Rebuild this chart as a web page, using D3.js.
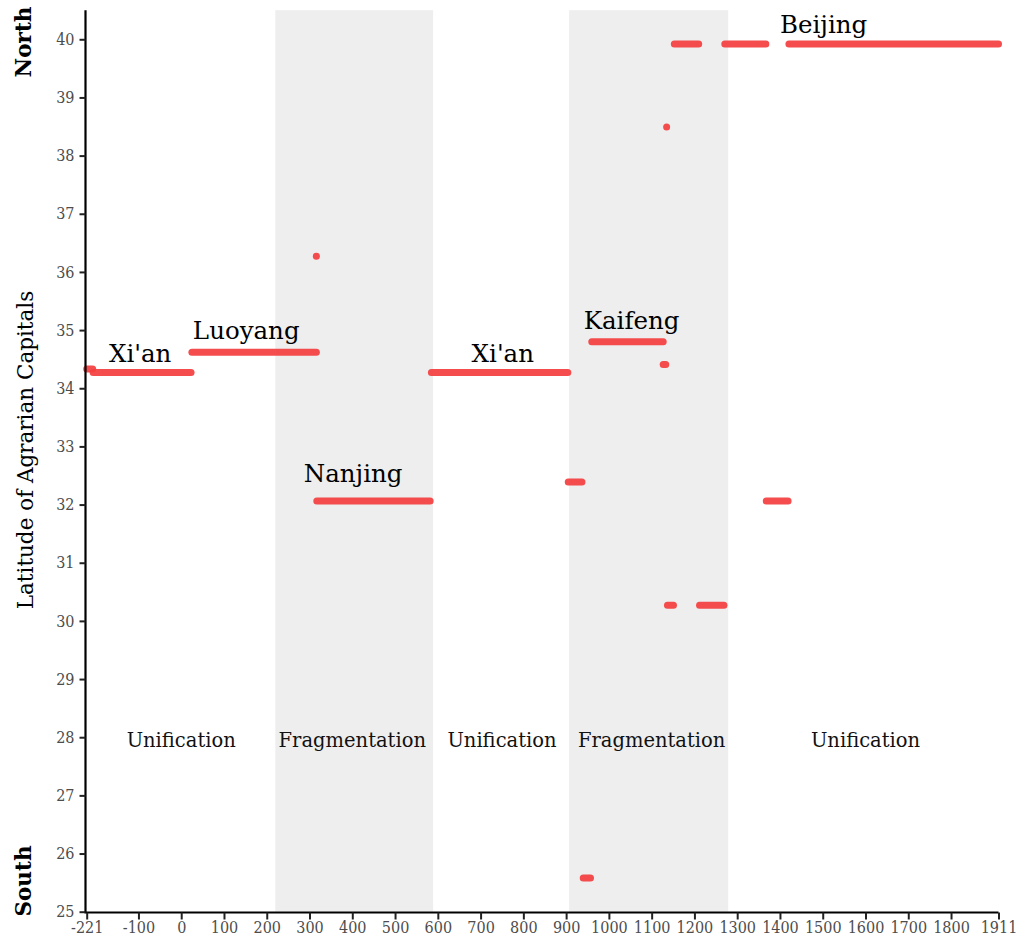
<!DOCTYPE html>
<html>
<head>
<meta charset="utf-8">
<script src="https://cdn.jsdelivr.net/npm/d3@7"></script>
<style>
  body { margin: 0; background: #fff; }
  svg { display: block; }
</style>
</head>
<body>
<svg id="chart" width="1022" height="945"></svg>
<script>
// ---- data ----
// capital spans: start year, end year, latitude
const startYear = [-221, -206, 25, 316, 317, 585, 905, 940, 960, 1127, 1135, 1137, 1153, 1212, 1271, 1368, 1421];
const endYear   = [-207,   23, 316, 316, 582, 904, 937, 957, 1127, 1133, 1135, 1151, 1210, 1269, 1367, 1419, 1911];
const latitude  = [34.33, 34.27, 34.62, 36.27, 32.06, 34.27, 32.39, 25.58, 34.80, 34.41, 38.49, 30.27, 39.92, 30.27, 39.92, 32.06, 39.92];

// fragmentation periods
const fragStart = [220, 907];
const fragEnd   = [589, 1279];

// period labels
const periodNames = ["Unification", "Fragmentation", "Unification", "Fragmentation", "Unification"];
const periodYears = [0, 400, 750, 1100, 1600];
const periodLat = 28;

// city labels
const cityNames = ["Xi'an", "Luoyang", "Nanjing", "Xi'an", "Kaifeng", "Beijing"];
const cityYears = [-96, 152, 402, 752, 1053, 1502];
const cityLats  = [34.45, 34.85, 32.38, 34.45, 35.02, 40.1];

// ticks
const xTicks = [-221, -100, 0, 100, 200, 300, 400, 500, 600, 700, 800, 900, 1000, 1100, 1200, 1300, 1400, 1500, 1600, 1700, 1800, 1911];
const yTicks = [25, 26, 27, 28, 29, 30, 31, 32, 33, 34, 35, 36, 37, 38, 39, 40];

// ---- layout ----
const svg = d3.select("#chart");
const font = "'DejaVu Serif', serif";
const tickFont = "'DejaVu Serif Condensed', 'DejaVu Serif', serif";
const x = d3.scaleLinear().domain([-221, 1911]).range([86.7, 998.5]);
const y = d3.scaleLinear().domain([25, 40.5]).range([911.7, 10.2]);

// fragmentation bands
svg.append("g").selectAll("rect").data(fragStart).join("rect")
  .attr("x", (d) => x(d))
  .attr("width", (d, i) => x(fragEnd[i]) - x(d))
  .attr("y", y(40.5))
  .attr("height", y(25) - y(40.5))
  .attr("fill", "#EEEEEE");

// period labels
svg.append("g").selectAll("text").data(periodNames).join("text")
  .attr("x", (d, i) => x(periodYears[i]))
  .attr("y", y(periodLat) + 10)
  .attr("text-anchor", "middle")
  .attr("font-family", font)
  .attr("font-size", 19.5)
  .attr("fill", "#111")
  .text((d) => d);

// capital segments
svg.append("g").selectAll("line").data(latitude).join("line")
  .attr("x1", (d, i) => x(startYear[i]))
  .attr("x2", (d, i) => x(endYear[i]))
  .attr("y1", (d) => y(d))
  .attr("y2", (d) => y(d))
  .attr("stroke", "#F43F3F")
  .attr("stroke-opacity", 0.93)
  .attr("stroke-width", 7)
  .attr("stroke-linecap", "round");

// city labels
svg.append("g").selectAll("text").data(cityNames).join("text")
  .attr("x", (d, i) => x(cityYears[i]))
  .attr("y", (d, i) => y(cityLats[i]))
  .attr("text-anchor", "middle")
  .attr("font-family", font)
  .attr("font-size", 24.5)
  .attr("fill", "#000")
  .text((d) => d);

// axes
const xAxis = svg.append("g")
  .attr("transform", "translate(0,912.5)")
  .call(d3.axisBottom(x).tickValues(xTicks).tickFormat((d) => String(d)).tickSize(7).tickSizeOuter(0));
const yAxis = svg.append("g")
  .attr("transform", "translate(85.5,0)")
  .call(d3.axisLeft(y).tickValues(yTicks).tickFormat((d) => String(d)).tickSize(6).tickSizeOuter(0));

[xAxis, yAxis].forEach((g) => {
  g.attr("font-size", null).attr("font-family", null);
  g.select(".domain").attr("stroke", "#000").attr("stroke-width", 2.2);
  g.selectAll(".tick line").attr("stroke", "#222").attr("stroke-width", 2);
  g.selectAll(".tick text")
    .style("font-family", tickFont)
    .style("font-size", "16px")
    .attr("fill", "#4D4D4D");
});
xAxis.select(".domain").attr("d", `M${84.5},0H${x(1911)}`);
yAxis.select(".domain").attr("d", `M0,${y(25) + 1}V${y(40.5)}`);
xAxis.selectAll(".tick text").attr("dy", "0.62em").attr("y", 11);
yAxis.selectAll(".tick text").attr("x", -11);

// axis title
svg.append("text")
  .attr("transform", `translate(33,${450}) rotate(-90)`)
  .attr("text-anchor", "middle")
  .attr("font-family", font)
  .attr("font-size", 21.5)
  .attr("fill", "#000")
  .text("Latitude of Agrarian Capitals");

// North / South
svg.append("text")
  .attr("transform", `translate(31,42) rotate(-90)`)
  .attr("text-anchor", "middle")
  .attr("font-family", font)
  .attr("font-weight", "bold")
  .attr("font-size", 21.5)
  .attr("fill", "#000")
  .text("North");
svg.append("text")
  .attr("transform", `translate(31,881) rotate(-90)`)
  .attr("text-anchor", "middle")
  .attr("font-family", font)
  .attr("font-weight", "bold")
  .attr("font-size", 21.5)
  .attr("fill", "#000")
  .text("South");
</script>
</body>
</html>
